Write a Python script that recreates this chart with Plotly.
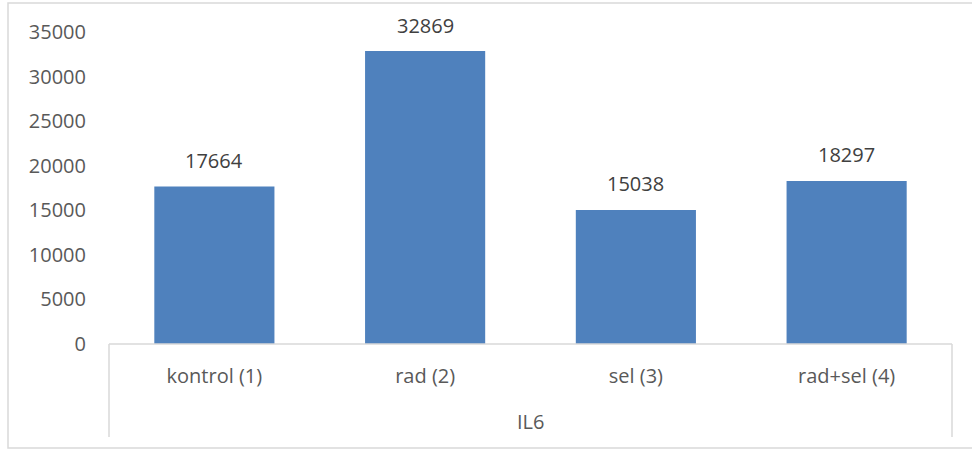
import plotly.graph_objects as go

categories = ["kontrol (1)", "rad (2)", "sel (3)", "rad+sel (4)"]
values = [17664, 32869, 15038, 18297]
group_label = "IL6"
y_ticks = [0, 5000, 10000, 15000, 20000, 25000, 30000, 35000]

FONT = "Open Sans"
AXIS_COL = "#595959"
LABEL_COL = "#404040"
LINE_COL = "#d9d9d9"

fig = go.Figure()
fig.add_trace(go.Bar(x=categories, y=values, marker=dict(color="#4f81bd", line=dict(width=0)),
                     width=0.57, hoverinfo="x+y"))

for c, v in zip(categories, values):
    fig.add_annotation(x=c, y=v, text=str(v), showarrow=False, yanchor="middle", yshift=26,
                       font=dict(family=FONT, size=20, color=LABEL_COL))

fig.add_annotation(x=0.5, xref="paper", y=-77/312, yref="paper", text=group_label, showarrow=False,
                   yanchor="middle", font=dict(family=FONT, size=20, color=AXIS_COL))

shapes = [
    # outer chart border
    dict(type="rect", xref="paper", yref="paper", x0=(8 - 109) / 843, x1=(1000 - 109) / 843,
         y0=(344 - 448) / 312, y1=(344 - 3) / 312, line=dict(color=LINE_COL, width=1.5), layer="below"),
    # category axis line
    dict(type="line", xref="paper", yref="paper", x0=0, x1=1, y0=0, y1=0, line=dict(color=LINE_COL, width=1.5)),
    # group box sides
    dict(type="line", xref="paper", yref="paper", x0=0, x1=0, y0=0, y1=(344 - 437) / 312, line=dict(color=LINE_COL, width=1.5)),
    dict(type="line", xref="paper", yref="paper", x0=1, x1=1, y0=0, y1=(344 - 437) / 312, line=dict(color=LINE_COL, width=1.5)),
]

fig.update_layout(
    width=972, height=450,
    margin=dict(l=109, r=20, t=32, b=106),
    paper_bgcolor="white", plot_bgcolor="white",
    showlegend=False,
    shapes=shapes,
    bargap=0.43,
    xaxis=dict(showline=False, showgrid=False, zeroline=False, ticks="", ticklabelstandoff=18,
               tickfont=dict(family=FONT, size=20, color=AXIS_COL), range=[-0.5, 3.5]),
    yaxis=dict(range=[0, 35000], tickvals=y_ticks, tickformat="d", showgrid=False, zeroline=False,
               showline=False, ticks="", ticklabelstandoff=22,
               tickfont=dict(family=FONT, size=20, color=AXIS_COL)),
)

fig.write_html("out.html")
